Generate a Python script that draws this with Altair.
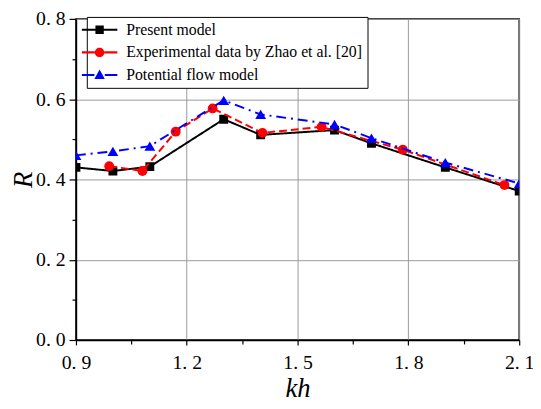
import altair as alt
import pandas as pd

series_names = ["Present model", "Experimental data by Zhao et al. [20]", "Potential flow model"]

present_kh = [0.9, 1.0, 1.1, 1.3, 1.4, 1.6, 1.7, 1.9, 2.1]
present_R = [0.430, 0.421, 0.432, 0.550, 0.511, 0.523, 0.490, 0.430, 0.371]

exp_kh = [0.99, 1.08, 1.17, 1.27, 1.405, 1.565, 1.785, 2.06]
exp_R = [0.433, 0.421, 0.519, 0.577, 0.516, 0.531, 0.474, 0.386]

pot_kh = [0.9, 1.0, 1.1, 1.3, 1.4, 1.6, 1.7, 1.9, 2.1]
pot_R = [0.460, 0.470, 0.483, 0.597, 0.562, 0.537, 0.503, 0.442, 0.390]

x_ticks = [0.9, 1.05, 1.2, 1.35, 1.5, 1.65, 1.8, 1.95, 2.1]
y_ticks = [0.0, 0.1, 0.2, 0.3, 0.4, 0.5, 0.6, 0.7, 0.8]

colors = ["#000000", "#ff0000", "#0000ff"]
dashes = [[1, 0], [8, 4], [10, 5, 2, 5]]
shapes = ["square", "circle", "triangle-up"]
sizes = [81, 100, 121]
# legend symbols: unit = 8px (symbolSize 256)
legend_paths = [
    "M-2.25,-0.13H-0.53V0.13H-2.25Z M0.53,-0.13H2.25V0.13H0.53Z M-0.53,-0.53H0.53V0.53H-0.53Z",
    "M-2.25,-0.13H-0.6V0.13H-2.25Z M0.6,-0.13H2.25V0.13H0.6Z M-0.6,0A0.6,0.6 0 1,1 0.6,0A0.6,0.6 0 1,1 -0.6,0Z",
    "M-2.25,-0.13H-0.66V0.13H-2.25Z M0.66,-0.13H2.25V0.13H0.66Z M0,-0.7L0.66,0.5H-0.66Z",
]

rows = []
for name, xs, ys in zip(series_names, [present_kh, exp_kh, pot_kh], [present_R, exp_R, pot_R]):
    for a, b in zip(xs, ys):
        rows.append({"series": name, "kh": a, "R": b})
df = pd.DataFrame(rows)

FONT = "Liberation Serif"

xscale = alt.Scale(domain=[0.9, 2.1], nice=False, zero=False)
yscale = alt.Scale(domain=[0.0, 0.8], nice=False, zero=False)

xaxis = alt.Axis(
    title="kh", values=x_ticks,
    labelExpr="(round(datum.value*100) % 30 == 0) ? replace(format(datum.value, '.1f'), '.', '. ') : ''",
    gridOpacity=alt.ExprRef(expr="(round(datum.value*100) % 30 == 0) ? 1 : 0"),
    tickSize=alt.ExprRef(expr="(round(datum.value*100) % 30 == 0) ? 5 : 4"),
    labelFont=FONT, labelFontSize=20, labelColor="black", labelPadding=8,
    titleFont=FONT, titleFontSize=27, titleFontStyle="italic", titleFontWeight="normal",
    titleColor="black", titlePadding=3,
    grid=True, gridColor="#999999", gridWidth=1,
    domainColor="black", domainWidth=1.5, tickColor="black", tickWidth=1.2,
    labelFlush=False,
)
yaxis = alt.Axis(
    title="R", values=y_ticks,
    labelExpr="(round(datum.value*10) % 2 == 0) ? replace(format(datum.value, '.1f'), '.', '. ') : ''",
    gridOpacity=alt.ExprRef(expr="(round(datum.value*10) % 2 == 0) ? 1 : 0"),
    tickSize=alt.ExprRef(expr="(round(datum.value*10) % 2 == 0) ? 7 : 4"),
    labelFont=FONT, labelFontSize=20, labelColor="black", labelPadding=4,
    titleFont=FONT, titleFontSize=27, titleFontStyle="italic", titleFontWeight="normal",
    titleColor="black", titlePadding=-2,
    grid=True, gridColor="#999999", gridWidth=1,
    domainColor="black", domainWidth=1.5, tickColor="black", tickWidth=1.2,
    labelFlush=False,
)

layers = []
for i, name in enumerate(series_names):
    sub = alt.Chart(df).transform_filter(alt.datum.series == name)
    line = sub.mark_line(color=colors[i], strokeWidth=2, strokeDash=dashes[i], clip=True).encode(
        x=alt.X("kh:Q", scale=xscale, axis=xaxis),
        y=alt.Y("R:Q", scale=yscale, axis=yaxis),
        order="kh:Q",
    )
    pts = sub.mark_point(shape=shapes[i], size=sizes[i], filled=True, opacity=1,
                         color=colors[i], clip=True).encode(
        x=alt.X("kh:Q", scale=xscale, axis=xaxis),
        y=alt.Y("R:Q", scale=yscale, axis=yaxis),
    )
    layers += [line, pts]

legend_layer = alt.Chart(df).transform_filter("false").mark_point(filled=True, opacity=1).encode(
    x=alt.X("kh:Q", scale=xscale, axis=xaxis),
    y=alt.Y("R:Q", scale=yscale, axis=yaxis),
    color=alt.Color("series:N", scale=alt.Scale(domain=series_names, range=colors),
                    legend=alt.Legend(title=None)),
    shape=alt.Shape("series:N", scale=alt.Scale(domain=series_names, range=legend_paths),
                    legend=alt.Legend(title=None)),
)

chart = alt.layer(*layers, legend_layer).properties(
    width=450, height=326,
    autosize=alt.AutoSizeParams(type="none"),
    padding={"left": 69, "top": 8, "right": 14, "bottom": 67},
).configure_view(
    stroke="black", strokeWidth=1.5
).configure_legend(
    orient="none", legendX=11, legendY=-2,
    strokeColor="black", fillColor="white", padding=5,
    symbolSize=256, symbolStrokeWidth=0, labelFont=FONT, labelFontSize=16,
    labelColor="black", labelOffset=19, rowPadding=7, cornerRadius=0,
    labelLimit=400,
)

chart.save("out.html", embed_options={"renderer": "svg", "actions": False})
